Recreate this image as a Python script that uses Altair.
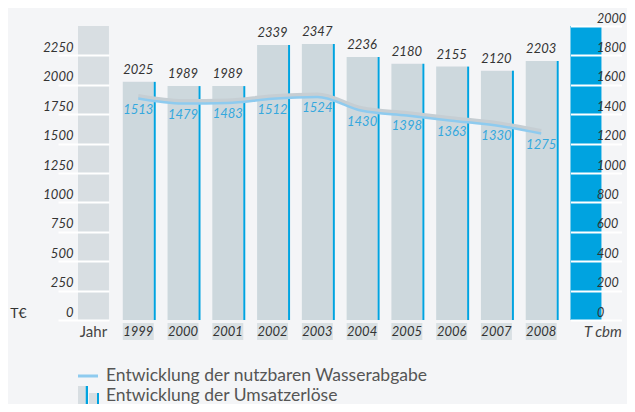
import altair as alt
import pandas as pd

# ---------------- data ----------------
years = ["1999", "2000", "2001", "2002", "2003", "2004", "2005", "2006", "2007", "2008"]
umsatz = [2025, 1989, 1989, 2339, 2347, 2236, 2180, 2155, 2120, 2203]   # T€ (bars)
wasser = [1513, 1479, 1483, 1512, 1524, 1430, 1398, 1363, 1330, 1275]   # T cbm (line)
left_col = "Jahr"
right_col = "T cbm"
left_max = 2500
right_max = 2000
left_ticks = [0, 250, 500, 750, 1000, 1250, 1500, 1750, 2000, 2250]
right_ticks = [0, 200, 400, 600, 800, 1000, 1200, 1400, 1600, 1800, 2000]
left_title = "T€"
legend_labels = ["Entwicklung der nutzbaren Wasserabgabe", "Entwicklung der Umsatzerlöse"]

# ---------------- layout / style ----------------
FONT = "Lato"
BG = "#f4f5f7"
BAR = "#cdd8dd"
COL_GREY = "#d8dee2"
BOX = "#d9e0e3"
BLUE = "#00a3e0"
LINE = "#8ecbef"
SHADOW = "#c6ced3"
LBLUE = "#35a8dd"
DARK = "#333333"
NUM = 13

cats = [left_col] + years + [right_col]
n = len(cats)
plot_w = 613
plot_h = 294
total_w = 619
total_h = 396
pad_top = 18
p_inner = 0.3083
p_outer = 1.0
step = plot_w / (n - p_inner + 2 * p_outer)
bw = step * (1 - p_inner)
start = 70
align = start / (plot_w - step * (n - p_inner))
col_right = start + bw
tcbm_start = start + (n - 1) * step

xscale = alt.Scale(domain=cats, paddingInner=p_inner, paddingOuter=p_outer,
                   align=align, round=False)
X = alt.X("cat:N", scale=xscale, axis=None)

axis_left = alt.Axis(orient="left", offset=-col_right, values=left_ticks, tickSize=51,
                     tickColor="white", tickWidth=2, domain=False, grid=False,
                     labelPadding=-15, labelBaseline="bottom", labelOffset=-1,
                     labelFont=FONT, labelFontSize=NUM, labelFontStyle="italic",
                     labelColor=DARK, format="d", zindex=1,
                     title=left_title, titleAngle=0, titleX=10 - col_right, titleY=287,
                     titleAlign="center", titleBaseline="middle", titleFont=FONT,
                     titleFontSize=14, titleFontWeight="normal", titleColor=DARK)
axis_right = alt.Axis(orient="right", offset=-(plot_w - tcbm_start), values=right_ticks,
                      tickSize=51, tickColor="white", tickWidth=2, domain=False, grid=False,
                      labelPadding=-25, labelBaseline="bottom", labelOffset=-1,
                      labelFont=FONT, labelFontSize=12.5, labelFontStyle="italic",
                      labelColor=DARK, format="d", zindex=1, title=None)

YL = alt.Y("v:Q", scale=alt.Scale(domain=[0, left_max], nice=False, zero=True), axis=axis_left)
YR = alt.Y("w:Q", scale=alt.Scale(domain=[0, right_max], nice=False, zero=True), axis=axis_right)

df = pd.DataFrame({"cat": years, "v": umsatz, "w": wasser})
df_left = pd.DataFrame({"cat": [left_col], "v": [left_max]})
df_right = pd.DataFrame({"cat": [right_col], "w": [right_max]})
df_leg1 = pd.DataFrame({"label": [legend_labels[0]]})
df_leg2 = pd.DataFrame({"label": [legend_labels[1]]})

# ---- left (T€) group ----
jahr_col = alt.Chart(df_left).mark_bar(color=COL_GREY).encode(x=X, y=YL)
boxes = alt.Chart(df).mark_bar(color=BOX).encode(
    x=X, y=alt.value(plot_h + 3), y2=alt.value(plot_h + 20))
bars = alt.Chart(df).mark_bar(color=BAR).encode(x=X, y=YL)
stripes = alt.Chart(df).mark_bar(color=BLUE, size=2, xOffset=bw / 2 + 1).encode(x=X, y=YL)
bar_lbl = alt.Chart(df).mark_text(font=FONT, fontSize=NUM, fontStyle="italic", color=DARK,
                                  baseline="bottom", dy=-5).encode(
    x=X, y=YL, text=alt.Text("v:Q", format="d"))
year_lbl = alt.Chart(df).mark_text(font=FONT, fontSize=NUM, fontStyle="italic", color=DARK,
                                   baseline="middle").encode(
    x=X, y=alt.value(plot_h + 12), text="cat:N")
jahr_lbl = alt.Chart(df_left).mark_text(font=FONT, fontSize=15, color="#444",
                                        baseline="middle").encode(
    x=X, y=alt.value(plot_h + 12), text="cat:N")
tcbm_lbl = alt.Chart(df_right).mark_text(font=FONT, fontSize=15, fontStyle="italic",
                                         color="#444", baseline="middle", align="left",
                                         dx=-2).encode(
    x=X, y=alt.value(plot_h + 12), text="cat:N")

left = alt.layer(jahr_col, boxes, bars, stripes, bar_lbl, year_lbl, jahr_lbl, tcbm_lbl)

# ---- right (T cbm) group ----
tcbm_col = alt.Chart(df_right).mark_bar(color=BLUE).encode(x=X, y=YR)
shadow = alt.Chart(df).mark_line(color=SHADOW, strokeWidth=4, yOffset=-1.5,
                                 interpolate="monotone").encode(x=X, y=YR)
line = alt.Chart(df).mark_line(color=LINE, strokeWidth=2.5, yOffset=1,
                               interpolate="monotone").encode(x=X, y=YR)
line_lbl = alt.Chart(df).mark_text(font=FONT, fontSize=NUM, fontStyle="italic", color=LBLUE,
                                   baseline="middle", dy=12).encode(
    x=X, y=YR, text=alt.Text("w:Q", format="d"))

right = alt.layer(tcbm_col, shadow, line, line_lbl)

# ---- legend (manual) ----
r1 = 350   # row centres in plot coordinates
r2 = 370
leg_line = alt.Chart(df_leg1).mark_rule(color=LINE, strokeWidth=3).encode(
    x=alt.value(70), x2=alt.value(90), y=alt.value(r1))
ic1 = alt.Chart(df_leg2).mark_rect(color=COL_GREY).encode(
    x=alt.value(70), x2=alt.value(77.7), y=alt.value(r2 - 10), y2=alt.value(r2 + 8))
ic2 = alt.Chart(df_leg2).mark_rect(color=BLUE).encode(
    x=alt.value(77.7), x2=alt.value(80), y=alt.value(r2 - 10), y2=alt.value(r2 + 8))
ic3 = alt.Chart(df_leg2).mark_rect(color=COL_GREY).encode(
    x=alt.value(81), x2=alt.value(89), y=alt.value(r2 - 3), y2=alt.value(r2 + 8))
ic4 = alt.Chart(df_leg2).mark_rect(color=BLUE).encode(
    x=alt.value(89), x2=alt.value(91), y=alt.value(r2 - 3), y2=alt.value(r2 + 8))
leg_t1 = alt.Chart(df_leg1).mark_text(font=FONT, fontSize=17.5, color="#555", align="left",
                                      baseline="middle").encode(
    x=alt.value(98), y=alt.value(r1), text="label:N")
leg_t2 = alt.Chart(df_leg2).mark_text(font=FONT, fontSize=17.5, color="#555", align="left",
                                      baseline="middle").encode(
    x=alt.value(98), y=alt.value(r2), text="label:N")
legend = alt.layer(leg_line, ic1, ic2, ic3, ic4, leg_t1, leg_t2)

chart = alt.layer(left, right, legend).resolve_scale(y="independent").properties(
    width=plot_w, height=plot_h, autosize="none",
    padding={"left": 0, "top": pad_top, "right": total_w - plot_w,
             "bottom": total_h - pad_top - plot_h},
    background=BG,
).configure(font=FONT).configure_view(stroke=None)

chart.save("out.html", embed_options={"renderer": "svg", "actions": False})
